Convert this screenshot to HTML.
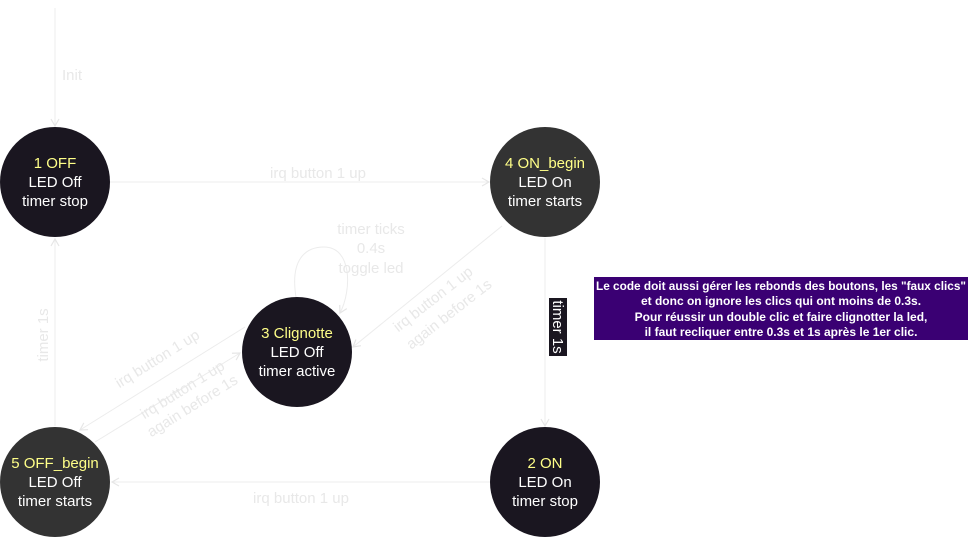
<!DOCTYPE html>
<html><head><meta charset="utf-8"><style>
html,body{margin:0;padding:0;background:#fff;width:968px;height:538px;overflow:hidden}
svg text{font-family:"Liberation Sans",Arial,sans-serif}
</style></head><body>
<svg width="968" height="538" viewBox="0 0 968 538" xmlns="http://www.w3.org/2000/svg">
<defs>
<marker id="a" markerWidth="10" markerHeight="10" refX="8" refY="5" orient="auto" markerUnits="userSpaceOnUse">
<path d="M1,1 L8,5 L1,9" fill="none" stroke="#e6e6e6" stroke-width="1.2"/>
</marker>
</defs>
<g stroke="#ececec" stroke-width="1" fill="none">
<line x1="55" y1="8" x2="55" y2="126" marker-end="url(#a)"/>
<line x1="110" y1="182" x2="489" y2="182" marker-end="url(#a)"/>
<line x1="545" y1="238" x2="545" y2="426" marker-end="url(#a)"/>
<line x1="490" y1="482" x2="112" y2="482" marker-end="url(#a)"/>
<line x1="55" y1="426" x2="55" y2="239" marker-end="url(#a)"/>
<line x1="502" y1="226" x2="353" y2="347" marker-end="url(#a)"/>
<line x1="245" y1="327" x2="80" y2="430" marker-end="url(#a)"/>
<line x1="95" y1="442" x2="240" y2="353" marker-end="url(#a)"/>
<path d="M296,297 C290,260 305,247 324,247 C352,247 352,290 340,313" marker-end="url(#a)"/>
</g>
<g fill="#e8e8e8" font-size="15" text-anchor="middle">
<text x="72" y="80">Init</text>
<text x="318" y="178">irq button 1 up</text>
<text x="301" y="503">irq button 1 up</text>
<text x="371" y="234">timer ticks</text>
<text x="371" y="253">0.4s</text>
<text x="371" y="273">toggle led</text>
<text transform="translate(48,335) rotate(-90)">timer 1s</text>
<text transform="translate(160,363) rotate(-32)">irq button 1 up</text>
<text transform="translate(185,394) rotate(-32)">irq button 1 up</text>
<text transform="translate(195,410) rotate(-32)">again before 1s</text>
<text transform="translate(436,303) rotate(-38)">irq button 1 up</text>
<text transform="translate(452,318) rotate(-38)">again before 1s</text>
</g>
<rect x="549" y="298" width="18" height="58" fill="#1a1620"/>
<text transform="translate(553,327) rotate(90)" fill="#fff" font-size="15" text-anchor="middle">timer 1s</text>
<rect x="594" y="277" width="374" height="63" fill="#3a0073"/>
<g fill="#fff" font-size="12" font-weight="bold" text-anchor="middle">
<text x="781" y="290" textLength="370" lengthAdjust="spacingAndGlyphs">Le code doit aussi gérer les rebonds des boutons, les "faux clics"</text>
<text x="781" y="305">et donc on ignore les clics qui ont moins de 0.3s.</text>
<text x="781" y="321">Pour réussir un double clic et faire clignotter la led,</text>
<text x="781" y="336">il faut recliquer entre 0.3s et 1s après le 1er clic.</text>
</g>
<g font-size="15" text-anchor="middle">
<circle cx="55" cy="182" r="55" fill="#1a1620"/>
<text x="55" y="168" fill="#ffff88">1 OFF</text><text x="55" y="187" fill="#fff">LED Off</text><text x="55" y="206" fill="#fff">timer stop</text>
<circle cx="545" cy="182" r="55" fill="#333"/>
<text x="545" y="168" fill="#ffff88">4 ON_begin</text><text x="545" y="187" fill="#fff">LED On</text><text x="545" y="206" fill="#fff">timer starts</text>
<circle cx="297" cy="352" r="55" fill="#1a1620"/>
<text x="297" y="338" fill="#ffff88">3 Clignotte</text><text x="297" y="357" fill="#fff">LED Off</text><text x="297" y="376" fill="#fff">timer active</text>
<circle cx="55" cy="482" r="55" fill="#333"/>
<text x="55" y="468" fill="#ffff88">5 OFF_begin</text><text x="55" y="487" fill="#fff">LED Off</text><text x="55" y="506" fill="#fff">timer starts</text>
<circle cx="545" cy="482" r="55" fill="#1a1620"/>
<text x="545" y="468" fill="#ffff88">2 ON</text><text x="545" y="487" fill="#fff">LED On</text><text x="545" y="506" fill="#fff">timer stop</text>
</g>
</svg>
</body></html>
